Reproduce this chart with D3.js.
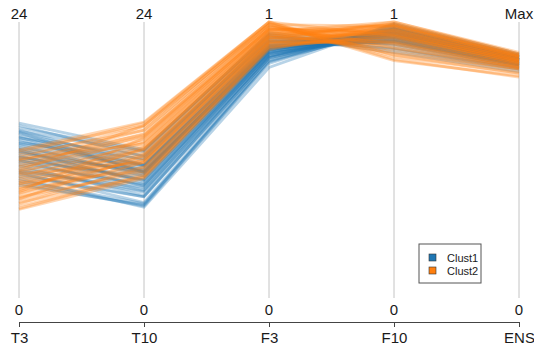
<!DOCTYPE html>
<html lang="en">
<head>
    <meta charset="UTF-8">
    <title>Parallel coordinates</title>
    <script src="https://d3js.org/d3.v7.min.js"></script>
    <style>
        body { margin: 0; background: #fff; }
        text { font-family: "Liberation Sans", Arial, sans-serif; fill: #1a1a1a; }
    </style>
</head>
<body>

<script>
    // axes
    var dims = ["T3", "T10", "F3", "F10", "ENS"];
    var maxVals = [24, 24, 1, 1, 1];
    var topLabels = ["24", "24", "1", "1", "Max"];
    var clusters = ["Clust1", "Clust2"];
    var colors = ["#1f77b4", "#ff7f0e"];

    // lines: [T3, T10, F3, F10, ENS]
    var clust1 = [
        [15.2, 12.9, 0.955, 0.90, 0.83],
        [15.0, 12.3, 0.94, 0.945, 0.855],
        [14.8, 12.8, 0.96, 0.915, 0.835],
        [14.6, 11.6, 0.915, 0.965, 0.865],
        [14.5, 12.7, 0.95, 0.89, 0.82],
        [14.3, 12.0, 0.93, 0.93, 0.845],
        [14.1, 11.5, 0.925, 0.955, 0.86],
        [13.9, 12.4, 0.935, 0.905, 0.83],
        [13.8, 11.0, 0.905, 0.975, 0.875],
        [13.6, 11.6, 0.93, 0.945, 0.85],
        [13.4, 11.5, 0.915, 0.925, 0.84],
        [13.3, 10.6, 0.90, 0.96, 0.865],
        [13.1, 11.4, 0.92, 0.94, 0.855],
        [12.9, 10.0, 0.89, 0.97, 0.87],
        [12.8, 10.8, 0.91, 0.935, 0.845],
        [12.6, 11.0, 0.905, 0.95, 0.86],
        [12.4, 9.7, 0.885, 0.965, 0.865],
        [12.3, 10.3, 0.895, 0.945, 0.85],
        [12.1, 10.3, 0.90, 0.955, 0.86],
        [12.0, 9.4, 0.875, 0.975, 0.875],
        [11.8, 9.8, 0.89, 0.955, 0.855],
        [11.6, 9.9, 0.885, 0.95, 0.86],
        [11.5, 8.9, 0.87, 0.98, 0.875],
        [11.3, 9.3, 0.88, 0.96, 0.865],
        [11.1, 9.2, 0.875, 0.97, 0.87],
        [10.9, 8.3, 0.86, 0.985, 0.88],
        [10.8, 8.8, 0.87, 0.975, 0.87],
        [10.6, 8.8, 0.87, 0.965, 0.865],
        [10.4, 7.9, 0.835, 0.995, 0.885],
        [10.2, 8.2, 0.85, 0.99, 0.88],
        [10.0, 8.0, 0.855, 0.98, 0.875],
        [9.8, 8.1, 0.86, 0.975, 0.87],
        [13.0, 10.9, 0.905, 0.94, 0.85],
        [12.2, 11.2, 0.915, 0.93, 0.845],
        [14.0, 11.1, 0.91, 0.96, 0.865],
        [11.0, 9.6, 0.885, 0.955, 0.86],
        [12.7, 10.2, 0.895, 0.935, 0.845],
        [13.5, 12.1, 0.945, 0.92, 0.84],
        [11.9, 10.6, 0.90, 0.965, 0.865],
        [14.4, 10.9, 0.905, 0.93, 0.845]
    ];

    var clust2 = [
        [7.7, 10.4, 0.90, 0.99, 0.88],
        [7.8, 10.7, 0.91, 0.975, 0.87],
        [8.0, 10.5, 0.905, 0.96, 0.86],
        [8.2, 11.4, 0.92, 0.985, 0.875],
        [8.3, 10.6, 0.91, 0.95, 0.855],
        [8.5, 11.2, 0.925, 0.97, 0.87],
        [8.7, 11.8, 0.935, 0.995, 0.885],
        [8.8, 10.9, 0.915, 0.94, 0.85],
        [9.0, 11.8, 0.93, 0.965, 0.865],
        [9.1, 12.2, 0.945, 0.98, 0.875],
        [9.3, 11.4, 0.925, 0.93, 0.845],
        [9.5, 12.5, 0.95, 0.955, 0.86],
        [9.6, 12.0, 0.94, 1.0, 0.885],
        [9.8, 12.0, 0.93, 0.92, 0.835],
        [9.9, 12.9, 0.96, 0.975, 0.87],
        [10.1, 12.3, 0.945, 0.91, 0.835],
        [10.2, 13.1, 0.96, 0.95, 0.855],
        [10.4, 12.6, 0.95, 0.99, 0.88],
        [10.5, 13.5, 0.97, 0.93, 0.845],
        [10.7, 12.9, 0.955, 0.90, 0.83],
        [10.9, 13.8, 0.975, 0.96, 0.86],
        [11.0, 13.2, 0.965, 0.885, 0.825],
        [11.2, 14.1, 0.98, 0.94, 0.85],
        [11.4, 13.6, 0.97, 0.985, 0.875],
        [11.5, 14.3, 0.985, 0.89, 0.83],
        [11.7, 14.0, 0.975, 0.92, 0.84],
        [11.9, 14.6, 0.99, 0.875, 0.815],
        [12.0, 14.2, 0.98, 0.965, 0.865],
        [12.2, 14.9, 0.995, 0.86, 0.805],
        [12.4, 14.6, 0.99, 0.905, 0.835],
        [12.6, 15.2, 1.0, 0.865, 0.80],
        [12.8, 15.0, 1.0, 0.95, 0.855],
        [12.9, 15.3, 1.0, 0.88, 0.815],
        [9.4, 13.0, 0.955, 0.99, 0.88],
        [10.8, 11.8, 0.935, 0.97, 0.865],
        [8.6, 12.4, 0.945, 0.925, 0.84],
        [11.1, 15.0, 0.99, 0.985, 0.875],
        [10.0, 11.0, 0.92, 0.945, 0.85],
        [12.1, 13.4, 0.965, 1.0, 0.89],
        [9.2, 13.9, 0.975, 0.955, 0.86]
    ];

    var width = 534, height = 354;
    var yTop = 22, yBottom = 298;

    var svg = d3.select("body").append("svg")
        .attr("width", width)
        .attr("height", height);

    var x = d3.scalePoint().domain(dims).range([19, 519]);

    var y = {};
    dims.forEach(function (d, i) {
        y[d] = d3.scaleLinear().domain([0, maxVals[i]]).range([yBottom, yTop]);
    });

    // vertical axis lines
    svg.selectAll(".vline")
        .data(dims)
        .enter().append("line")
        .attr("x1", d => x(d)).attr("x2", d => x(d))
        .attr("y1", (d, i) => y[d](maxVals[i]))
        .attr("y2", d => y[d](0))
        .attr("stroke", "#c4c4c4")
        .attr("stroke-width", 1);

    var line = d3.line()
        .x((v, i) => x(dims[i]))
        .y((v, i) => y[dims[i]](v));

    [clust1, clust2].forEach(function (rows, k) {
        svg.append("g").selectAll("path")
            .data(rows)
            .enter().append("path")
            .attr("d", line)
            .attr("fill", "none")
            .attr("stroke", colors[k])
            .attr("stroke-width", 2.8)
            .attr("stroke-opacity", 0.32);
    });

    // top labels
    svg.selectAll(".toplab")
        .data(dims)
        .enter().append("text")
        .attr("x", d => x(d))
        .attr("y", 19)
        .attr("text-anchor", "middle")
        .style("font-size", "15px")
        .text((d, i) => topLabels[i]);

    // zero labels
    svg.selectAll(".zerolab")
        .data(dims)
        .enter().append("text")
        .attr("x", d => x(d))
        .attr("y", 315)
        .attr("text-anchor", "middle")
        .style("font-size", "15px")
        .text("0");

    // bottom axis
    var ax = svg.append("g")
        .attr("transform", "translate(0,322)")
        .call(d3.axisBottom(x).tickSize(5).tickSizeOuter(0).tickPadding(5));
    ax.select(".domain").attr("stroke", "#444");
    ax.selectAll(".tick line").attr("stroke", "#444");
    ax.selectAll(".tick text")
        .style("font-size", "15px")
        .style("font-family", "Liberation Sans, Arial, sans-serif")
        .attr("fill", "#1a1a1a");

    // legend
    var lg = svg.append("g").attr("transform", "translate(419,244)");
    lg.append("rect")
        .attr("width", 62).attr("height", 39)
        .attr("fill", "#fff")
        .attr("stroke", "#555");
    clusters.forEach(function (c, i) {
        lg.append("rect")
            .attr("x", 10).attr("y", 10 + i * 13)
            .attr("width", 7).attr("height", 7)
            .attr("fill", colors[i])
            .attr("stroke", "#333").attr("stroke-width", 0.6);
        lg.append("text")
            .attr("x", 28).attr("y", 17.5 + i * 13)
            .style("font-size", "11px")
            .text(c);
    });
</script>

</body>
</html>
